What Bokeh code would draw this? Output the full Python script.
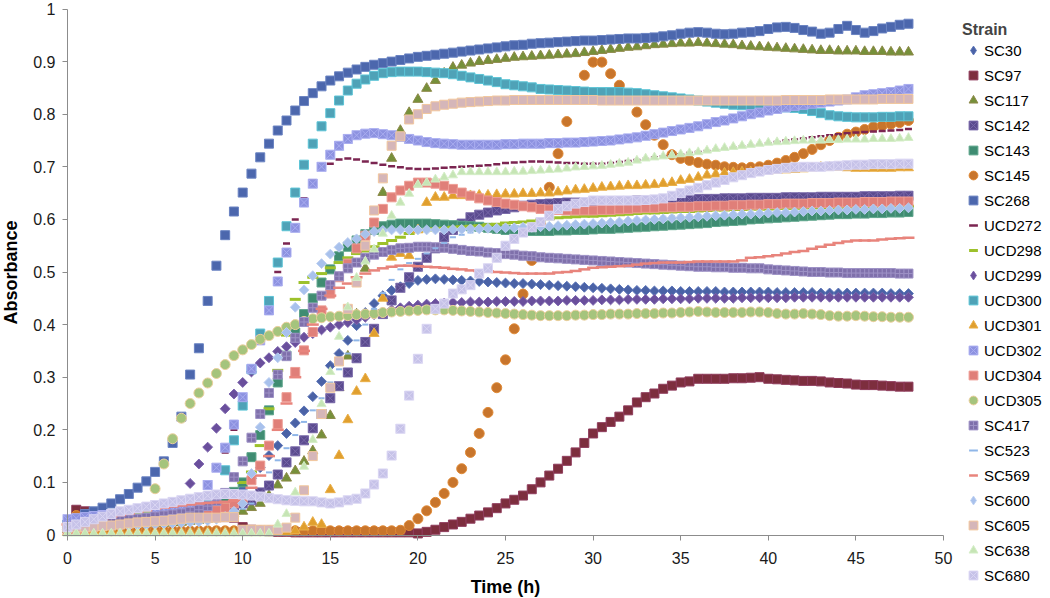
import math
from bokeh.plotting import figure
from bokeh.models import Range1d, FixedTicker, Legend, LegendItem, ColumnDataSource
from bokeh.embed import file_html
from bokeh.resources import INLINE

# sampling times (h): every 0.5 h from 0 to 48
time_h = [i * 0.5 for i in range(97)]

strains = ["SC30", "SC97", "SC117", "SC142", "SC143", "SC145", "SC268", "UCD272",
           "UCD298", "UCD299", "UCD300", "UCD301", "UCD302", "UCD304", "UCD305",
           "SC417", "SC523", "SC569", "SC600", "SC605", "SC638", "SC680"]

SC30 = [0.010,0.012,0.014,0.016,0.018,0.020,0.022,0.024,0.026,0.028,
        0.030,0.032,0.034,0.036,0.040,0.045,0.050,0.056,0.064,0.074,
        0.088,0.108,0.128,0.151,0.170,0.193,0.213,0.236,0.263,0.292,
        0.322,0.345,0.370,0.398,0.423,0.440,0.455,0.465,0.472,0.478,
        0.484,0.486,0.487,0.486,0.485,0.484,0.483,0.482,0.481,0.480,
        0.479,0.478,0.478,0.477,0.476,0.475,0.474,0.473,0.472,0.471,
        0.470,0.469,0.468,0.467,0.466,0.465,0.465,0.464,0.464,0.464,
        0.463,0.463,0.463,0.463,0.463,0.462,0.462,0.462,0.462,0.462,
        0.462,0.461,0.461,0.461,0.461,0.461,0.460,0.460,0.460,0.460,
        0.460,0.460,0.460,0.460,0.459,0.459,0.459]

SC97 = [0.020,0.048,0.045,0.040,0.038,0.036,0.035,0.035,0.036,0.036,
        0.037,0.037,0.038,0.038,0.038,0.037,0.036,0.035,0.034,0.033,
        0.015,0.010,0.008,0.007,0.006,0.006,0.005,0.005,0.005,0.005,
        0.005,0.005,0.005,0.005,0.005,0.005,0.005,0.005,0.005,0.005,
        0.003,0.006,0.010,0.015,0.020,0.025,0.031,0.037,0.043,0.051,
        0.060,0.067,0.075,0.087,0.100,0.113,0.126,0.141,0.157,0.175,
        0.193,0.205,0.215,0.225,0.237,0.252,0.262,0.269,0.278,0.284,
        0.290,0.292,0.297,0.297,0.297,0.297,0.298,0.298,0.299,0.300,
        0.297,0.296,0.295,0.294,0.293,0.293,0.292,0.290,0.289,0.288,
        0.286,0.285,0.285,0.284,0.283,0.282,0.282]

SC117 = [0.010,0.012,0.013,0.014,0.015,0.016,0.017,0.018,0.019,0.020,
         0.021,0.022,0.023,0.024,0.026,0.028,0.030,0.033,0.036,0.040,
         0.045,0.052,0.060,0.075,0.095,0.108,0.122,0.140,0.160,0.190,
         0.227,0.280,0.340,0.420,0.507,0.580,0.651,0.716,0.769,0.803,
         0.828,0.849,0.864,0.878,0.889,0.893,0.897,0.900,0.902,0.904,
         0.906,0.908,0.909,0.910,0.911,0.912,0.913,0.914,0.915,0.917,
         0.919,0.921,0.923,0.925,0.927,0.928,0.930,0.932,0.933,0.934,
         0.935,0.935,0.936,0.935,0.934,0.933,0.932,0.930,0.929,0.928,
         0.927,0.926,0.925,0.924,0.923,0.922,0.921,0.921,0.920,0.920,
         0.920,0.919,0.919,0.919,0.918,0.918,0.918]

SC142 = [0.015,0.018,0.020,0.022,0.024,0.026,0.028,0.030,0.032,0.034,
         0.036,0.038,0.040,0.042,0.044,0.046,0.048,0.050,0.053,0.056,
         0.060,0.066,0.081,0.094,0.115,0.138,0.159,0.180,0.203,0.230,
         0.260,0.283,0.309,0.336,0.367,0.392,0.420,0.446,0.470,0.490,
         0.510,0.527,0.545,0.566,0.580,0.592,0.604,0.609,0.613,0.617,
         0.620,0.623,0.626,0.628,0.629,0.630,0.631,0.632,0.632,0.633,
         0.633,0.634,0.634,0.635,0.635,0.636,0.636,0.637,0.637,0.638,
         0.638,0.638,0.639,0.639,0.639,0.640,0.640,0.640,0.641,0.641,
         0.641,0.641,0.642,0.642,0.642,0.642,0.643,0.643,0.643,0.643,
         0.643,0.644,0.644,0.644,0.644,0.645,0.645]

SC143 = [0.015,0.018,0.020,0.022,0.024,0.026,0.028,0.030,0.032,0.034,
         0.036,0.038,0.040,0.043,0.046,0.050,0.055,0.062,0.070,0.082,
         0.100,0.148,0.190,0.237,0.290,0.341,0.385,0.420,0.450,0.480,
         0.505,0.530,0.548,0.560,0.572,0.580,0.587,0.590,0.592,0.592,
         0.592,0.592,0.591,0.590,0.589,0.588,0.587,0.586,0.584,0.582,
         0.580,0.579,0.578,0.578,0.578,0.578,0.579,0.579,0.580,0.580,
         0.581,0.582,0.582,0.583,0.584,0.585,0.586,0.587,0.588,0.589,
         0.590,0.591,0.592,0.593,0.595,0.596,0.597,0.598,0.600,0.601,
         0.602,0.603,0.604,0.605,0.606,0.607,0.608,0.609,0.610,0.610,
         0.611,0.611,0.612,0.612,0.613,0.613,0.614]

SC145 = [0.020,0.037,0.012,0.009,0.008,0.008,0.008,0.008,0.008,0.008,
         0.008,0.008,0.008,0.008,0.008,0.008,0.008,0.008,0.008,0.008,
         0.008,0.008,0.008,0.008,0.008,0.008,0.008,0.008,0.008,0.008,
         0.008,0.008,0.008,0.008,0.008,0.008,0.008,0.008,0.009,0.018,
         0.031,0.046,0.062,0.079,0.100,0.126,0.157,0.193,0.233,0.280,
         0.333,0.392,0.458,0.522,0.590,0.661,0.725,0.786,0.836,0.874,
         0.899,0.899,0.877,0.855,0.830,0.804,0.780,0.760,0.742,0.723,
         0.716,0.712,0.708,0.705,0.703,0.700,0.699,0.698,0.699,0.700,
         0.703,0.707,0.712,0.718,0.725,0.733,0.742,0.750,0.756,0.762,
         0.766,0.771,0.776,0.778,0.781,0.784,0.788]

SC268 = [0.020,0.030,0.040,0.045,0.052,0.060,0.068,0.078,0.090,0.102,
         0.120,0.140,0.175,0.225,0.305,0.355,0.445,0.512,0.570,0.615,
         0.651,0.687,0.718,0.744,0.769,0.788,0.807,0.825,0.840,0.853,
         0.864,0.872,0.879,0.885,0.890,0.894,0.897,0.900,0.903,0.906,
         0.909,0.911,0.913,0.915,0.917,0.919,0.921,0.923,0.925,0.927,
         0.929,0.931,0.932,0.934,0.935,0.936,0.937,0.938,0.939,0.940,
         0.940,0.941,0.942,0.943,0.944,0.944,0.945,0.946,0.948,0.950,
         0.953,0.955,0.956,0.955,0.953,0.952,0.953,0.955,0.956,0.958,
         0.962,0.965,0.966,0.964,0.960,0.957,0.953,0.955,0.962,0.968,
         0.960,0.955,0.958,0.963,0.966,0.970,0.972]

UCD272 = [0.020,0.022,0.024,0.026,0.028,0.030,0.031,0.032,0.033,0.034,
          0.035,0.036,0.037,0.038,0.040,0.045,0.055,0.080,0.157,0.200,
          0.250,0.310,0.370,0.430,0.500,0.554,0.600,0.640,0.674,0.695,
          0.706,0.714,0.716,0.714,0.710,0.707,0.704,0.701,0.699,0.697,
          0.696,0.696,0.697,0.698,0.699,0.700,0.701,0.702,0.703,0.705,
          0.707,0.708,0.709,0.710,0.710,0.709,0.708,0.707,0.707,0.706,
          0.706,0.706,0.707,0.709,0.711,0.713,0.715,0.718,0.720,0.722,
          0.724,0.726,0.728,0.730,0.732,0.734,0.736,0.738,0.740,0.742,
          0.745,0.747,0.750,0.752,0.754,0.756,0.758,0.760,0.762,0.764,
          0.765,0.766,0.767,0.768,0.769,0.770,0.772]

UCD298 = [0.015,0.017,0.019,0.021,0.023,0.025,0.027,0.029,0.031,0.033,
          0.035,0.037,0.039,0.041,0.043,0.046,0.050,0.055,0.062,0.080,
          0.100,0.120,0.170,0.240,0.313,0.380,0.448,0.480,0.490,0.497,
          0.508,0.518,0.527,0.535,0.540,0.548,0.554,0.560,0.566,0.573,
          0.578,0.580,0.582,0.583,0.585,0.586,0.587,0.588,0.590,0.591,
          0.593,0.594,0.595,0.597,0.599,0.601,0.603,0.604,0.605,0.606,
          0.606,0.607,0.608,0.609,0.610,0.611,0.612,0.612,0.613,0.614,
          0.615,0.615,0.616,0.617,0.618,0.618,0.619,0.619,0.620,0.620,
          0.620,0.621,0.621,0.621,0.622,0.622,0.622,0.623,0.623,0.623,
          0.624,0.624,0.624,0.624,0.625,0.625,0.625]

UCD299 = [0.015,0.017,0.019,0.020,0.022,0.024,0.026,0.028,0.030,0.032,
          0.035,0.040,0.045,0.060,0.098,0.135,0.167,0.203,0.240,0.268,
          0.290,0.310,0.327,0.337,0.349,0.358,0.366,0.376,0.383,0.390,
          0.395,0.400,0.404,0.409,0.414,0.419,0.423,0.428,0.432,0.435,
          0.437,0.439,0.440,0.441,0.442,0.442,0.443,0.443,0.443,0.444,
          0.444,0.444,0.444,0.445,0.445,0.445,0.445,0.446,0.446,0.446,
          0.446,0.447,0.447,0.447,0.448,0.448,0.448,0.448,0.449,0.449,
          0.449,0.449,0.450,0.450,0.450,0.450,0.450,0.451,0.451,0.451,
          0.451,0.451,0.451,0.452,0.452,0.452,0.452,0.452,0.452,0.452,
          0.452,0.452,0.452,0.452,0.452,0.452,0.452]

UCD300 = [0.020,0.022,0.025,0.027,0.030,0.032,0.034,0.036,0.038,0.040,
          0.042,0.044,0.046,0.048,0.050,0.053,0.058,0.075,0.123,0.180,
          0.246,0.315,0.383,0.445,0.518,0.587,0.651,0.704,0.744,0.777,
          0.802,0.826,0.845,0.858,0.866,0.873,0.878,0.880,0.881,0.881,
          0.881,0.880,0.879,0.878,0.876,0.873,0.870,0.867,0.864,0.861,
          0.857,0.855,0.853,0.851,0.848,0.847,0.846,0.845,0.844,0.843,
          0.842,0.842,0.842,0.842,0.841,0.840,0.838,0.836,0.834,0.832,
          0.830,0.828,0.826,0.824,0.822,0.820,0.818,0.817,0.816,0.815,
          0.814,0.813,0.813,0.812,0.810,0.806,0.802,0.798,0.796,0.795,
          0.794,0.794,0.794,0.795,0.795,0.796,0.796]

UCD301 = [0.005,0.005,0.005,0.005,0.005,0.005,0.005,0.005,0.005,0.005,
          0.005,0.005,0.005,0.005,0.005,0.005,0.005,0.005,0.005,0.005,
          0.005,0.005,0.005,0.005,0.005,0.005,0.008,0.015,0.024,0.020,
          0.086,0.151,0.219,0.273,0.297,0.383,0.450,0.528,0.535,0.531,
          0.580,0.632,0.642,0.642,0.645,0.645,0.645,0.646,0.646,0.647,
          0.648,0.648,0.649,0.649,0.650,0.650,0.652,0.654,0.656,0.657,
          0.659,0.661,0.662,0.663,0.664,0.664,0.665,0.666,0.668,0.670,
          0.674,0.676,0.680,0.684,0.686,0.688,0.689,0.690,0.690,0.691,
          0.692,0.693,0.694,0.695,0.696,0.698,0.699,0.699,0.699,0.698,
          0.697,0.697,0.697,0.697,0.697,0.698,0.698]

UCD302 = [0.030,0.032,0.034,0.036,0.038,0.040,0.042,0.044,0.045,0.046,
          0.047,0.048,0.049,0.050,0.052,0.060,0.095,0.128,0.166,0.210,
          0.262,0.316,0.370,0.427,0.482,0.537,0.584,0.632,0.668,0.700,
          0.723,0.740,0.753,0.760,0.763,0.764,0.762,0.760,0.757,0.753,
          0.750,0.747,0.745,0.744,0.743,0.742,0.742,0.742,0.742,0.742,
          0.743,0.743,0.744,0.744,0.744,0.745,0.745,0.746,0.746,0.747,
          0.748,0.749,0.750,0.752,0.754,0.756,0.759,0.762,0.765,0.768,
          0.771,0.774,0.777,0.781,0.785,0.788,0.792,0.796,0.800,0.803,
          0.807,0.810,0.813,0.816,0.818,0.820,0.822,0.824,0.826,0.828,
          0.832,0.836,0.838,0.840,0.842,0.845,0.848]

UCD304 = [0.010,0.012,0.014,0.016,0.018,0.020,0.022,0.024,0.026,0.028,
          0.030,0.032,0.034,0.036,0.038,0.040,0.043,0.047,0.052,0.060,
          0.070,0.104,0.132,0.170,0.211,0.262,0.310,0.351,0.386,0.427,
          0.459,0.490,0.516,0.545,0.569,0.594,0.620,0.642,0.655,0.664,
          0.670,0.670,0.668,0.664,0.658,0.651,0.645,0.640,0.636,0.633,
          0.630,0.628,0.625,0.623,0.620,0.619,0.618,0.617,0.617,0.617,
          0.617,0.618,0.618,0.619,0.620,0.621,0.622,0.622,0.623,0.623,
          0.624,0.624,0.625,0.625,0.626,0.626,0.627,0.627,0.628,0.628,
          0.629,0.629,0.630,0.630,0.630,0.631,0.631,0.631,0.632,0.632,
          0.632,0.633,0.633,0.633,0.634,0.634,0.634]

UCD305 = [0.010,0.012,0.014,0.016,0.018,0.020,0.023,0.027,0.035,0.047,
          0.088,0.135,0.183,0.222,0.250,0.270,0.289,0.307,0.324,0.341,
          0.352,0.362,0.372,0.379,0.387,0.395,0.400,0.406,0.411,0.413,
          0.415,0.416,0.417,0.419,0.420,0.421,0.423,0.424,0.425,0.426,
          0.427,0.428,0.428,0.428,0.427,0.426,0.425,0.424,0.423,0.422,
          0.421,0.420,0.419,0.418,0.417,0.417,0.417,0.417,0.418,0.418,
          0.419,0.419,0.420,0.420,0.420,0.421,0.421,0.421,0.422,0.422,
          0.423,0.424,0.425,0.424,0.423,0.423,0.423,0.423,0.424,0.424,
          0.423,0.421,0.420,0.420,0.421,0.420,0.419,0.417,0.416,0.416,
          0.417,0.416,0.415,0.415,0.414,0.414,0.414]

SC417 = [0.015,0.017,0.019,0.021,0.023,0.025,0.027,0.029,0.031,0.033,
         0.035,0.037,0.039,0.041,0.044,0.048,0.055,0.065,0.080,0.110,
         0.140,0.185,0.230,0.270,0.305,0.340,0.375,0.405,0.432,0.455,
         0.475,0.492,0.507,0.518,0.527,0.533,0.538,0.542,0.545,0.546,
         0.548,0.548,0.547,0.546,0.544,0.542,0.540,0.539,0.537,0.536,
         0.534,0.533,0.531,0.530,0.528,0.527,0.526,0.525,0.524,0.523,
         0.522,0.521,0.520,0.519,0.518,0.517,0.516,0.515,0.514,0.513,
         0.512,0.511,0.510,0.510,0.509,0.509,0.508,0.508,0.507,0.507,
         0.505,0.504,0.503,0.502,0.501,0.500,0.500,0.499,0.499,0.498,
         0.498,0.498,0.498,0.498,0.498,0.497,0.497]

SC523 = [0.010,0.012,0.014,0.016,0.018,0.020,0.022,0.024,0.026,0.028,
         0.030,0.031,0.032,0.033,0.034,0.035,0.036,0.038,0.040,0.045,
         0.050,0.060,0.080,0.119,0.142,0.165,0.190,0.215,0.237,0.260,
         0.290,0.315,0.345,0.370,0.400,0.430,0.460,0.485,0.505,0.517,
         0.525,0.535,0.545,0.555,0.566,0.571,0.575,0.578,0.580,0.582,
         0.583,0.585,0.586,0.587,0.588,0.589,0.590,0.591,0.593,0.594,
         0.595,0.596,0.597,0.598,0.600,0.601,0.602,0.603,0.605,0.606,
         0.607,0.608,0.609,0.610,0.610,0.611,0.611,0.612,0.612,0.613,
         0.614,0.615,0.615,0.616,0.617,0.618,0.619,0.619,0.620,0.620,
         0.621,0.621,0.622,0.622,0.623,0.624,0.625]

SC569 = [0.020,0.023,0.026,0.029,0.032,0.035,0.038,0.041,0.044,0.047,
         0.050,0.052,0.054,0.056,0.058,0.060,0.061,0.062,0.063,0.065,
         0.075,0.090,0.113,0.150,0.200,0.250,0.300,0.350,0.400,0.430,
         0.455,0.470,0.478,0.490,0.497,0.503,0.507,0.510,0.512,0.512,
         0.511,0.510,0.509,0.508,0.506,0.505,0.503,0.502,0.501,0.500,
         0.499,0.498,0.497,0.497,0.497,0.497,0.499,0.500,0.502,0.505,
         0.508,0.509,0.510,0.511,0.512,0.514,0.516,0.517,0.518,0.518,
         0.518,0.519,0.520,0.520,0.520,0.520,0.520,0.522,0.527,0.528,
         0.530,0.532,0.535,0.538,0.540,0.544,0.548,0.552,0.555,0.558,
         0.560,0.560,0.560,0.562,0.563,0.564,0.565]

SC600 = [0.010,0.011,0.012,0.013,0.014,0.015,0.016,0.017,0.018,0.019,
         0.020,0.021,0.022,0.023,0.024,0.025,0.027,0.030,0.035,0.045,
         0.060,0.117,0.205,0.290,0.337,0.385,0.433,0.466,0.493,0.516,
         0.534,0.547,0.556,0.563,0.572,0.577,0.579,0.580,0.580,0.580,
         0.580,0.580,0.580,0.580,0.581,0.581,0.582,0.582,0.583,0.583,
         0.584,0.584,0.585,0.585,0.586,0.587,0.588,0.589,0.590,0.591,
         0.592,0.593,0.594,0.595,0.597,0.598,0.599,0.600,0.601,0.602,
         0.603,0.604,0.605,0.606,0.607,0.608,0.609,0.610,0.610,0.611,
         0.612,0.613,0.613,0.614,0.615,0.616,0.616,0.617,0.618,0.618,
         0.619,0.619,0.620,0.620,0.621,0.621,0.622]

SC605 = [0.015,0.015,0.015,0.016,0.017,0.018,0.020,0.022,0.024,0.025,
         0.026,0.027,0.029,0.031,0.033,0.033,0.033,0.033,0.034,0.034,
         0.010,0.010,0.010,0.010,0.010,0.014,0.033,0.085,0.150,0.230,
         0.280,0.330,0.430,0.480,0.550,0.617,0.678,0.740,0.758,0.790,
         0.800,0.810,0.815,0.818,0.820,0.822,0.823,0.824,0.825,0.826,
         0.826,0.827,0.827,0.827,0.827,0.827,0.827,0.827,0.827,0.827,
         0.827,0.826,0.826,0.826,0.826,0.826,0.826,0.826,0.826,0.826,
         0.826,0.826,0.826,0.826,0.826,0.826,0.826,0.826,0.826,0.826,
         0.826,0.826,0.827,0.827,0.827,0.827,0.827,0.828,0.828,0.828,
         0.828,0.828,0.828,0.829,0.829,0.829,0.829]

SC638 = [0.003,0.003,0.003,0.003,0.003,0.003,0.003,0.003,0.003,0.003,
         0.003,0.003,0.003,0.003,0.003,0.003,0.003,0.003,0.003,0.003,
         0.003,0.003,0.003,0.003,0.020,0.040,0.081,0.130,0.181,0.249,
         0.310,0.377,0.433,0.489,0.520,0.543,0.573,0.607,0.632,0.649,
         0.666,0.670,0.676,0.680,0.684,0.690,0.690,0.690,0.690,0.690,
         0.690,0.691,0.691,0.692,0.693,0.694,0.695,0.697,0.699,0.700,
         0.701,0.702,0.704,0.706,0.708,0.712,0.716,0.718,0.720,0.722,
         0.724,0.726,0.728,0.731,0.734,0.736,0.738,0.740,0.742,0.744,
         0.746,0.747,0.748,0.749,0.750,0.750,0.750,0.751,0.751,0.752,
         0.752,0.752,0.753,0.753,0.753,0.754,0.755]

SC680 = [0.015,0.020,0.025,0.030,0.035,0.040,0.045,0.048,0.051,0.054,
         0.057,0.060,0.063,0.066,0.069,0.072,0.075,0.077,0.078,0.078,
         0.077,0.075,0.073,0.070,0.068,0.066,0.065,0.064,0.064,0.062,
         0.060,0.062,0.066,0.069,0.079,0.096,0.117,0.151,0.202,0.265,
         0.335,0.392,0.430,0.440,0.459,0.467,0.475,0.497,0.507,0.527,
         0.550,0.563,0.575,0.585,0.595,0.607,0.620,0.625,0.630,0.633,
         0.636,0.636,0.636,0.636,0.636,0.636,0.637,0.638,0.640,0.645,
         0.650,0.655,0.660,0.665,0.670,0.675,0.680,0.684,0.688,0.691,
         0.694,0.696,0.698,0.699,0.700,0.700,0.700,0.701,0.702,0.703,
         0.704,0.704,0.705,0.705,0.705,0.706,0.706]

series = {"SC30": SC30, "SC97": SC97, "SC117": SC117, "SC142": SC142, "SC143": SC143,
          "SC145": SC145, "SC268": SC268, "UCD272": UCD272, "UCD298": UCD298,
          "UCD299": UCD299, "UCD300": UCD300, "UCD301": UCD301, "UCD302": UCD302,
          "UCD304": UCD304, "UCD305": UCD305, "SC417": SC417, "SC523": SC523,
          "SC569": SC569, "SC600": SC600, "SC605": SC605, "SC638": SC638, "SC680": SC680}

y_ticks = [0, 0.1, 0.2, 0.3, 0.4, 0.5, 0.6, 0.7, 0.8, 0.9, 1]
y_tick_labels = ["0", "0.1", "0.2", "0.3", "0.4", "0.5", "0.6", "0.7", "0.8", "0.9", "1"]
x_ticks = [0, 5, 10, 15, 20, 25, 30, 35, 40, 45, 50]

for k, v in series.items():
    if len(v) != len(time_h):
        raise ValueError(f"{k} has {len(v)} values")

D = math.pi / 4
styles = {
    "SC30":   dict(marker="square", angle=D, size=7, fill_color="#4A62A6", line_color="#5C75B8", line_width=1),
    "SC97":   dict(marker="square", angle=0, size=9, fill_color="#7D2E3E", line_color="#8F3C5C", line_width=1),
    "SC117":  dict(marker="triangle", angle=0, size=10, fill_color="#76903A", line_color="#8E8A4A", line_width=1),
    "SC142":  dict(marker="square_x", angle=0, size=9, fill_color="#5B4B8F", line_color="#7767A8", line_width=1),
    "SC143":  dict(marker="square", angle=0, size=9, fill_color="#3F8C72", line_color="#5FA68C", line_width=1),
    "SC145":  dict(marker="circle", angle=0, size=10, fill_color="#C8752C", line_color="#E08A36", line_width=1),
    "SC268":  dict(marker="square", angle=0, size=9, fill_color="#4C67AD", line_color="#6A83C2", line_width=1),
    "UCD272": dict(marker="dash", angle=0, size=7, fill_color="#7B2551", line_color="#7B2551", line_width=2.5),
    "UCD298": dict(marker="dash", angle=0, size=11, fill_color="#9DC12B", line_color="#9DC12B", line_width=3),
    "UCD299": dict(marker="square", angle=D, size=7, fill_color="#6A4F9C", line_color="#7C64AE", line_width=1),
    "UCD300": dict(marker="square", angle=0, size=9, fill_color="#4FA2B7", line_color="#5CC4D6", line_width=1),
    "UCD301": dict(marker="triangle", angle=0, size=10, fill_color="#E09F2E", line_color="#EAB04A", line_width=1),
    "UCD302": dict(marker="square_x", angle=0, size=9, fill_color="#8D92E0", line_color="#A9ADF0", line_width=1),
    "UCD304": dict(marker="square", angle=0, size=9, fill_color="#E07F79", line_color="#EE9D94", line_width=1),
    "UCD305": dict(marker="circle", angle=0, size=10, fill_color="#A5C47D", line_color="#EBCF9C", line_width=1),
    "SC417":  dict(marker="square_cross", angle=0, size=9, fill_color="#7F70AB", line_color="#9E92C6", line_width=1),
    "SC523":  dict(marker="dash", angle=0, size=6, fill_color="#8FB6E8", line_color="#8FB6E8", line_width=2),
    "SC569":  dict(marker="dash", angle=0, size=12, fill_color="#E8847C", line_color="#E8847C", line_width=2.5),
    "SC600":  dict(marker="square", angle=D, size=7, fill_color="#A8C1EC", line_color="#BDD0F2", line_width=1),
    "SC605":  dict(marker="square", angle=0, size=9, fill_color="#D5B6B9", line_color="#F2C79D", line_width=1),
    "SC638":  dict(marker="triangle", angle=0, size=9, fill_color="#C6E5B5", line_color="#D5EEC8", line_width=1),
    "SC680":  dict(marker="square_x", angle=0, size=9, fill_color="#C6C2E8", line_color="#DAD6F3", line_width=1),
}

FONT = "Liberation Sans"

# Frame spans the whole canvas; axes are pinned at x=0 / y=0 and bounded to the data area.
W, H = 1050, 598
X0_PX, X50_PX = 67.0, 943.0      # pixel columns of t=0 and t=50
Y0_PX, Y1_PX = 534.5, 8.5        # pixel rows of A=0 and A=1
sx = (X50_PX - X0_PX) / 50.0
sy = (Y0_PX - Y1_PX) / 1.0
x_range = Range1d(-X0_PX / sx, (W - X0_PX) / sx)
y_range = Range1d(-(H - Y0_PX) / sy, 1.0 + Y1_PX / sy)

p = figure(width=W, height=H, output_backend="svg", toolbar_location=None,
           x_range=x_range, y_range=y_range, min_border=0)
p.outline_line_color = None
p.xgrid.visible = False
p.ygrid.visible = False

data = {"t": time_h}
data.update(series)
src = ColumnDataSource(data)

renderers = {}
for name in strains:
    renderers[name] = p.scatter(x="t", y=name, source=src, **styles[name])

# diamond-shaped legend swatches for the three diamond series (not drawn in the plot)
legend_only = {}
for name in ("SC30", "UCD299", "SC600"):
    st = dict(styles[name])
    st["marker"] = "diamond"
    st["angle"] = 0
    legend_only[name] = p.scatter(x="t", y=name, source=src, visible=False, **st)

xa, ya = p.xaxis[0], p.yaxis[0]
for ax in (xa, ya):
    ax.fixed_location = 0
    ax.axis_line_color = "#8C8C8C"
    ax.major_tick_line_color = "#8C8C8C"
    ax.major_tick_out = 5
    ax.major_tick_in = 0
    ax.minor_tick_out = 0
    ax.minor_tick_in = 0
    ax.major_label_text_font = FONT
    ax.major_label_text_font_size = "16px"
    ax.major_label_text_color = "#1a1a1a"
    ax.axis_label_text_font = FONT
    ax.axis_label_text_font_size = "18px"
    ax.axis_label_text_font_style = "bold"
    ax.axis_label_text_color = "#000000"

xa.bounds = (0, 50)
ya.bounds = (0, 1)
xa.ticker = FixedTicker(ticks=x_ticks)
ya.ticker = FixedTicker(ticks=y_ticks)
ya.major_label_overrides = {t: lab for t, lab in zip(y_ticks, y_tick_labels)}
xa.axis_label = "Time (h)"
ya.axis_label = "Absorbance"
xa.major_label_standoff = 12
xa.axis_label_standoff = 9
ya.major_label_standoff = 7
ya.axis_label_standoff = 9

items = [LegendItem(label=name, renderers=[legend_only.get(name, renderers[name])])
         for name in strains]

legend = Legend(items=items, location=(958, 8), title="Strain",
                title_text_font=FONT, title_text_font_size="16px", title_text_font_style="bold",
                title_standoff=0,
                label_text_font=FONT, label_text_font_size="15px", label_text_color="#000000",
                glyph_width=22, glyph_height=22, label_height=22, label_standoff=0,
                spacing=3, padding=4, margin=0,
                border_line_alpha=0, background_fill_alpha=0)
p.add_layout(legend)

open("out.html", "w").write(file_html(p, INLINE))
